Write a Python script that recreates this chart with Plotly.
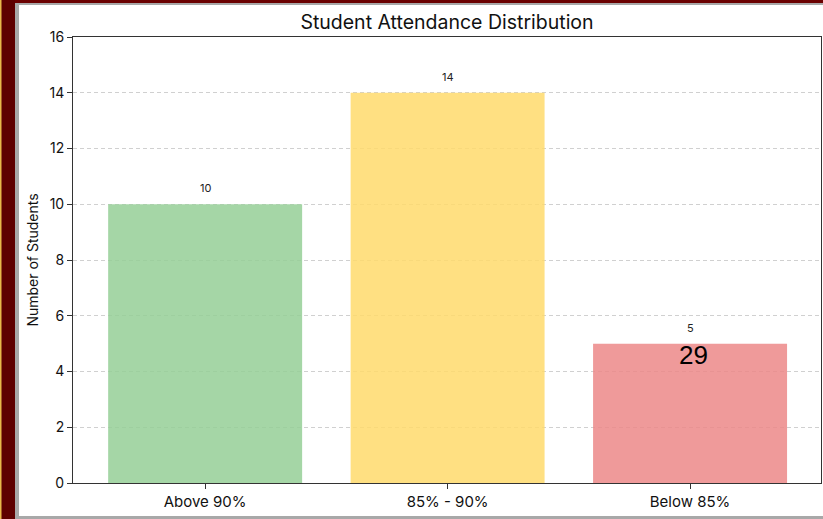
import plotly.graph_objects as go

categories = ["Above 90%", "85% - 90%", "Below 85%"]
counts = [10, 14, 5]
bar_colors = ["rgba(149,207,151,0.85)", "rgba(255,218,108,0.85)", "rgba(236,136,136,0.85)"]
y_ticks = [0, 2, 4, 6, 8, 10, 12, 14, 16]
extra_label = "29"
extra_label_y = 4.6

W, H = 823, 519
L, R, T, B = 73, 2, 37, 36
pw, ph = W - L - R, H - T - B

def px(x):
    return (x - L) / pw

def py(y):
    return (H - B - y) / ph

FONT = "Inter, Lato, sans-serif"

fig = go.Figure()
fig.add_trace(go.Bar(
    x=categories, y=counts, width=0.8,
    marker=dict(color=bar_colors, line=dict(width=0)),
    showlegend=False, hoverinfo="x+y",
))

annotations = []
for c, v in zip(categories, counts):
    annotations.append(dict(x=c, y=v, text=str(v), showarrow=False, yshift=16,
                            font=dict(family=FONT, size=11, color="#222")))
annotations.append(dict(x=categories[2], y=extra_label_y, text=extra_label, showarrow=False, xshift=3,
                        font=dict(family="Liberation Sans, Arial, sans-serif", size=26, color="#000")))

shapes = [
    dict(type="rect", xref="paper", yref="paper", x0=px(0), x1=px(19), y0=py(H), y1=py(0),
         fillcolor="#a8a8a8", line=dict(width=0), layer="below"),
    dict(type="rect", xref="paper", yref="paper", x0=px(0), x1=px(W), y0=py(5), y1=py(0),
         fillcolor="#a8a8a8", line=dict(width=0), layer="below"),
    dict(type="rect", xref="paper", yref="paper", x0=px(0), x1=px(W), y0=py(3), y1=py(0),
         fillcolor="#6b0000", line=dict(width=0), layer="below"),
    dict(type="rect", xref="paper", yref="paper", x0=px(0), x1=px(15), y0=py(H), y1=py(0),
         fillcolor="#5e0000", line=dict(width=0), layer="below"),
    dict(type="rect", xref="paper", yref="paper", x0=px(0), x1=px(1.5), y0=py(H), y1=py(0),
         fillcolor="#e8b84a", line=dict(width=0), layer="below"),
    dict(type="rect", xref="paper", yref="paper", x0=px(15), x1=px(W), y0=py(H), y1=py(516),
         fillcolor="#a8a8a8", line=dict(width=0), layer="below"),
]

fig.update_layout(
    width=W, height=H,
    margin=dict(l=L, r=R, t=T, b=B),
    paper_bgcolor="white", plot_bgcolor="white",
    title=dict(text="Student Attendance Distribution", x=447 / W, xanchor="center",
               y=1 - 22 / H, yanchor="middle",
               font=dict(family=FONT, size=19.5, color="#111")),
    font=dict(family=FONT, color="#111"),
    annotations=annotations,
    shapes=shapes,
    bargap=0.2,
)
fig.update_xaxes(
    range=[-0.545, 2.54], showgrid=False,
    ticks="outside", ticklen=5, tickcolor="#333", tickwidth=1,
    showline=True, linecolor="#333", linewidth=1, mirror=True,
    tickfont=dict(family=FONT, size=15, color="#111"),
)
fig.update_yaxes(
    range=[0, 16], tickvals=y_ticks, showgrid=True,
    gridcolor="#d0d0d0", griddash="4px,3px", gridwidth=1,
    ticks="outside", ticklen=5, tickcolor="#333", tickwidth=1,
    showline=True, linecolor="#333", linewidth=1, mirror=True,
    zeroline=False,
    tickfont=dict(family=FONT, size=14, color="#111"),
    title=dict(text="Number of Students", font=dict(family=FONT, size=14, color="#111"), standoff=7),
)

fig.write_html("out.html", config={"displayModeBar": False},
               post_script="document.body.style.margin='0';document.body.style.overflow='hidden';")
